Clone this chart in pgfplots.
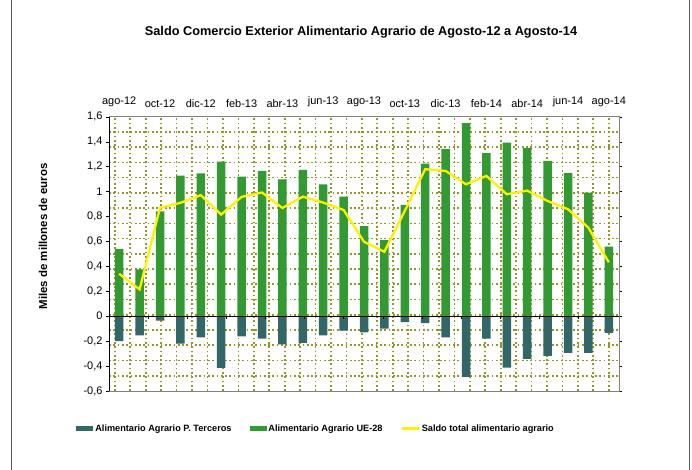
\documentclass[border=0pt]{standalone}
\usepackage{pgfplots}
\pgfplotsset{compat=1.18}
\usepackage{fontspec}
\setmainfont{Liberation Sans}
\definecolor{darkbar}{RGB}{51,102,102}
\definecolor{greenbar}{RGB}{51,153,51}
\definecolor{gridc}{RGB}{150,150,40}
\begin{document}
\begin{tikzpicture}
\path[use as bounding box] (0bp,0bp) rectangle (692bp,470bp);
\draw[gray!70!black, line width=0.8bp] (11bp,0bp) -- (11bp,470bp);
\draw[gray!70!black, line width=0.8bp] (689bp,0bp) -- (689bp,470bp);
\node[font=\bfseries\fontsize{12.8}{15}\selectfont] at (361bp,438bp) {Saldo Comercio Exterior Alimentario Agrario de Agosto-12 a Agosto-14};
\node[rotate=90, font=\bfseries\fontsize{11.5}{14}\selectfont] at (43bp,233.5bp) {Miles de millones de euros};
\begin{axis}[
  at={(109bp,79bp)}, anchor=south west,
  scale only axis, width=510bp, height=274.3bp,
  xmin=-0.5, xmax=24.5, ymin=-0.6, ymax=1.6,
  clip=false,
  axis line style={draw=gray},
  xtick={0,2,...,24},
  xticklabels={ago-12,oct-12,dic-12,feb-13,abr-13,jun-13,ago-13,oct-13,dic-13,feb-14,abr-14,jun-14,ago-14},
  xticklabel pos=right,
  xtick style={draw=none},
  xticklabel style={font=\fontsize{11}{13}\selectfont, yshift=3bp},
  ytick={-0.6,-0.4,...,1.61},
  ytick style={black},
  tick align=outside,
  major tick length=3bp,
  minor tick length=0pt,
  yticklabel style={font=\fontsize{11}{13}\selectfont, /pgf/number format/.cd, fixed, precision=1, use comma},
  /pgf/number format/assume math mode=true,
  minor xtick={-0.21,0.5465,...,24.1},
  minor ytick={-0.4774,-0.3552,...,1.49},
  xminorgrids=true, yminorgrids=true,
  xmajorgrids=false, ymajorgrids=false,
  minor grid style={color=gridc, line width=1.7bp, dash pattern=on 1.7bp off 2.6bp},
  legend columns=3,
  legend cell align=left,
  legend style={draw=none, fill=none, at={(0.406,-0.137)}, anchor=center,
    font=\bfseries\fontsize{9.2}{11}\selectfont,
    /tikz/every even column/.append style={column sep=16bp},
    /tikz/every odd column/.append style={column sep=0bp}},
]
\addplot[ybar, bar width=8.5bp, bar shift=0pt, fill=darkbar, draw=none,
  legend image code/.code={\fill[darkbar] (0bp,-2.6bp) rectangle (17bp,2.6bp);}]
coordinates {(0,-0.20) (1,-0.153) (2,-0.035) (3,-0.22) (4,-0.169) (5,-0.415) (6,-0.161) (7,-0.179) (8,-0.227) (9,-0.214) (10,-0.153) (11,-0.115) (12,-0.129) (13,-0.099) (14,-0.048) (15,-0.056) (16,-0.169) (17,-0.486) (18,-0.179) (19,-0.412) (20,-0.342) (21,-0.318) (22,-0.294) (23,-0.294) (24,-0.134)};
\addlegendentry{Alimentario Agrario P. Terceros}
\addplot[ybar, bar width=8.5bp, bar shift=0pt, fill=greenbar, draw=none,
  legend image code/.code={\fill[greenbar] (0bp,-2.6bp) rectangle (17bp,2.6bp);}]
coordinates {(0,0.54) (1,0.375) (2,0.84) (3,1.127) (4,1.146) (5,1.239) (6,1.119) (7,1.165) (8,1.098) (9,1.173) (10,1.058) (11,0.959) (12,0.723) (13,0.611) (14,0.892) (15,1.224) (16,1.342) (17,1.549) (18,1.308) (19,1.393) (20,1.348) (21,1.246) (22,1.147) (23,0.991) (24,0.557)};
\addlegendentry{Alimentario Agrario UE-28}
\addplot[yellow, line width=2.3bp, mark=none,
  legend image code/.code={\draw[yellow, line width=2.3bp] (0bp,0bp) -- (17bp,0bp);}]
coordinates {(0,0.34) (1,0.215) (2,0.87) (3,0.909) (4,0.971) (5,0.815) (6,0.957) (7,0.992) (8,0.868) (9,0.959) (10,0.911) (11,0.852) (12,0.597) (13,0.517) (14,0.845) (15,1.179) (16,1.165) (17,1.058) (18,1.125) (19,0.978) (20,1.007) (21,0.924) (22,0.858) (23,0.71) (24,0.432)};
\addlegendentry{Saldo total alimentario agrario}
\draw[black, line width=0.8bp] (axis cs:-0.5,0) -- (axis cs:24.5,0);
\pgfplotsinvokeforeach{1.4,3.32,5.24,7.16,9.08,11.0,12.92,14.84,16.76,18.68,20.6,22.52}{\draw[black, line width=0.5bp] (axis cs:#1,0) -- ++(0pt,-3bp);}
\draw[black, line width=0.8bp] (rel axis cs:0,0) -- (rel axis cs:0,1);
\end{axis}
\end{tikzpicture}
\end{document}
